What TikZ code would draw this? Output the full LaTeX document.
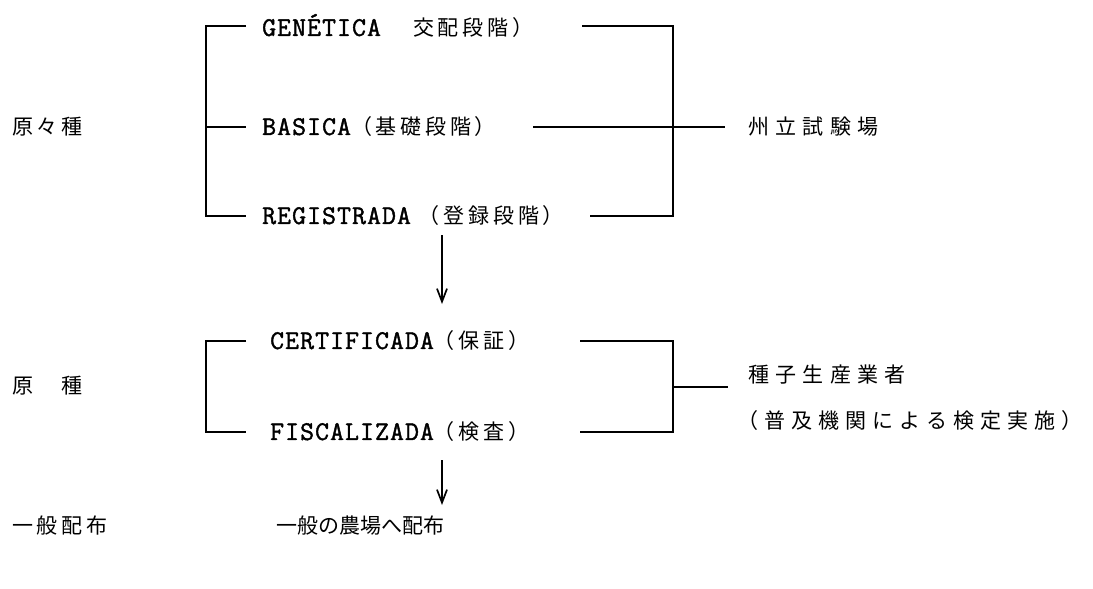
\documentclass[tikz,border=0pt]{standalone}
\usepackage{fontspec}
\usetikzlibrary{arrows.meta}
\newfontfamily\latfont{Latin Modern Mono}[FakeBold=1.5,LetterSpace=4]
\newfontfamily\jpfont{Noto Sans CJK JP}[LetterSpace=18]
\newfontfamily\jpwide{Noto Sans CJK JP}[LetterSpace=30]
\newfontfamily\jpwider{Noto Sans CJK JP}[LetterSpace=29]
\newfontfamily\jpplain{Noto Sans CJK JP}
\newcommand\latx[1]{{\latfont\fontsize{27}{30}\selectfont #1}}
\newcommand\jpx[1]{{\jpfont\fontsize{21}{26}\selectfont #1}}
\newcommand\jpw[1]{{\jpwide\fontsize{21}{26}\selectfont #1}}
\newcommand\jpww[1]{{\jpwider\fontsize{21}{26}\selectfont #1}}
\newcommand\jpp[1]{{\jpplain\fontsize{21}{26}\selectfont #1}}
\tikzset{
  lbl/.style={anchor=west, inner sep=0pt, text=black},
  wire/.style={line width=1.7pt, black},
  flow/.style={line width=1.7pt, black, -{Straight Barb[length=13pt,width=10pt,line width=1.7pt]}}
}
\begin{document}
\begin{tikzpicture}[x=1pt,y=-1pt]
\useasboundingbox (0,0) rectangle (1093,589);
\fill[white] (0,0) rectangle (1093,589);
% left column labels
\node[lbl] (l1) at (12,127) {\jpx{原々種}};
\node[lbl] (l2) at (12,386) {\jpx{原　種}};
\node[lbl] (l3) at (12,526) {\jpx{一般配布}};
% upper group
\node[lbl] (g) at (262,26) {\latx{GENÉTICA}\hspace{32pt}\jpx{交配段階）}};
\node[lbl] (b) at (262,127) {\latx{BASICA}\jpx{（基礎段階）}};
\node[lbl] (r) at (262,216) {\latx{REGISTRADA}\hspace{8pt}\jpx{（登録段階）}};
\node[lbl] (s1) at (748,127) {\jpw{州立試験場}};
% lower group
\node[lbl] (c) at (270,341) {\latx{CERTIFICADA}\jpx{（保証）}};
\node[lbl] (f) at (270,432) {\latx{FISCALIZADA}\jpx{（検査）}};
\node[lbl] (s2) at (748,375) {\jpw{種子生産業者}};
\node[lbl] (s3) at (737,421) {\jpww{（普及機関による検定実施）}};
\node[lbl] (d) at (276,526) {\jpp{一般の農場へ配布}};
% coordinates upper bracket
\coordinate (gL) at (246,26);
\coordinate (bL) at (246,127);
\coordinate (rL) at (246,216);
\coordinate (ulx) at (206,127);
\coordinate (gR) at (582,26);
\coordinate (bR) at (533,127);
\coordinate (rR) at (590,216);
\coordinate (urx) at (673,127);
\coordinate (bE) at (725,127);
\draw[wire] (gL) -- (gL -| ulx) -- (rL -| ulx) -- (rL);
\draw[wire] (ulx) -- (bL);
\draw[wire] (gR) -- (gR -| urx) -- (rR -| urx) -- (rR);
\draw[wire] (bR) -- (bE);
% lower bracket
\coordinate (cL) at (246,341);
\coordinate (fL) at (246,432);
\coordinate (llx) at (206,387);
\coordinate (cR) at (580,341);
\coordinate (fR) at (580,432);
\coordinate (lrx) at (673,387);
\coordinate (mE) at (728,387);
\draw[wire] (cL) -- (cL -| llx) -- (fL -| llx) -- (fL);
\draw[wire] (cR) -- (cR -| lrx) -- (fR -| lrx) -- (fR);
\draw[wire] (lrx) -- (mE);
% arrows
\coordinate (a1s) at (442,235);
\coordinate (a1e) at (442,304);
\coordinate (a2s) at (442,460);
\coordinate (a2e) at (442,505);
\draw[flow] (a1s) -- (a1e);
\draw[flow] (a2s) -- (a2e);
\end{tikzpicture}
\end{document}
